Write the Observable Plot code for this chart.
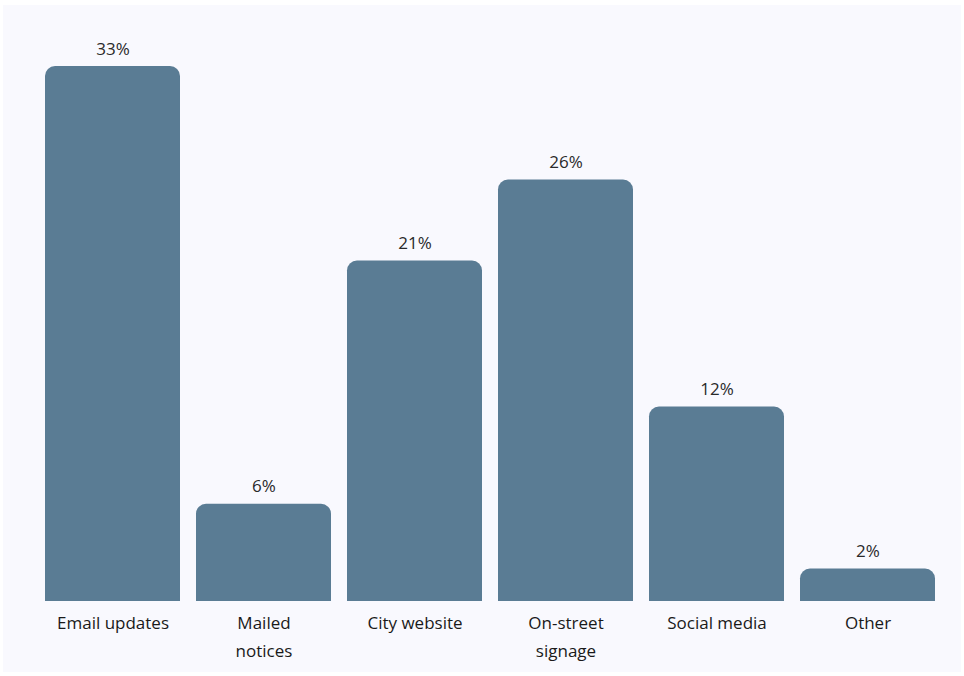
<!DOCTYPE html>
<html>
<head>
<meta charset="utf-8">
<script src="https://cdn.jsdelivr.net/npm/d3@7"></script>
<script src="https://cdn.jsdelivr.net/npm/@observablehq/plot@0.6"></script>
<style>
  html, body { margin: 0; padding: 0; background: #ffffff; }
  #wrap { position: relative; width: 964px; height: 676px; }
  #bg { position: absolute; left: 3px; top: 5px; width: 958px; height: 667px; background: #f9f9fe; }
  #chart { position: absolute; left: 0; top: 0; }
</style>
</head>
<body>
<div id="wrap"><div id="bg"></div><div id="chart"></div></div>
<script>
const categories = ["Email updates", "Mailed notices", "City website", "On-street signage", "Social media", "Other"];
const tickLabels = ["Email updates", "Mailed\nnotices", "City website", "On-street\nsignage", "Social media", "Other"];
const values = [33, 6, 21, 26, 12, 2];
const valueLabels = ["33%", "6%", "21%", "26%", "12%", "2%"];

const data = categories.map((c, i) => ({category: c, value: values[i], label: valueLabels[i]}));
const tickMap = new Map(categories.map((c, i) => [c, tickLabels[i]]));

const chart = Plot.plot({
  width: 964,
  height: 676,
  marginLeft: 44,
  marginRight: 28,
  marginTop: 66,
  marginBottom: 75,
  style: {background: "transparent", fontFamily: "'Open Sans', sans-serif", fontSize: "17px", color: "#222222"},
  x: {domain: categories, paddingInner: 0.108, paddingOuter: 0, label: null},
  y: {domain: [0, 33], axis: null},
  marks: [
    Plot.barY(data, {x: "category", y: "value", fill: "#5a7c94", ry1: 10}),
    Plot.text(data, {x: "category", y: "value", text: "label", dy: -12, lineAnchor: "bottom", fill: "#2a2a2a", fontSize: 17}),
    Plot.axisX({tickSize: 0, tickPadding: 8, tickFormat: d => tickMap.get(d), lineHeight: 1.65, fontSize: 17, fill: "#1a1a1a", label: null})
  ]
});
document.getElementById("chart").appendChild(chart);
</script>
</body>
</html>
